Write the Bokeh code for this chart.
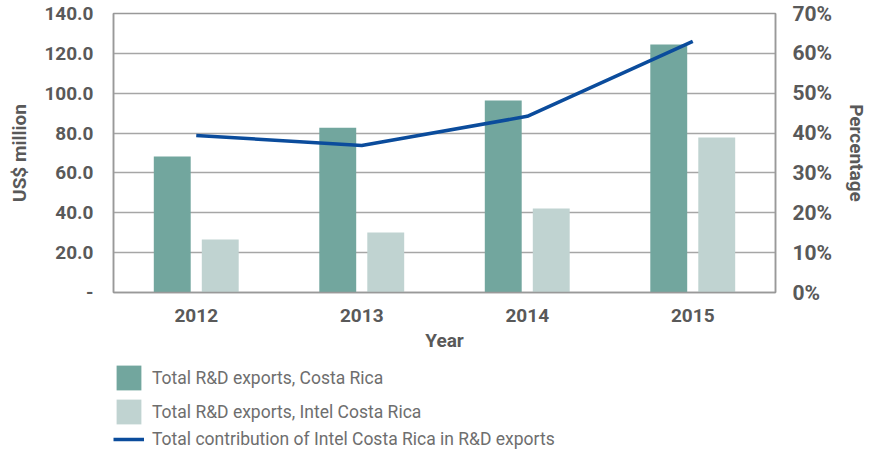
from bokeh.plotting import figure
from bokeh.layouts import column
from bokeh.models import (FactorRange, Range1d, LinearAxis, FixedTicker, NumeralTickFormatter,
                          CustomJSTickFormatter, Legend, LegendItem, ColumnDataSource)
from bokeh.transform import dodge
from bokeh.embed import file_html
from bokeh.resources import INLINE

years = ["2012", "2013", "2014", "2015"]
rd_costa_rica = [68.3, 82.7, 96.4, 124.4]
rd_intel = [26.6, 30.1, 42.2, 77.8]
intel_share = [0.394, 0.369, 0.442, 0.630]
left_ticks = [0, 20, 40, 60, 80, 100, 120, 140]
right_ticks = [0, 0.1, 0.2, 0.3, 0.4, 0.5, 0.6, 0.7]
series_names = ["Total R&D exports, Costa Rica", "Total R&D exports, Intel Costa Rica",
                "Total contribution of Intel Costa Rica in R&D exports"]

src = ColumnDataSource(dict(year=years, cr=rd_costa_rica, intel=rd_intel, share=intel_share))

FONT = "Roboto"
TXT = "#595959"
C_CR = "#72a69e"
C_IN = "#c0d3d1"
C_LN = "#0b4c9c"

p = figure(width=871, height=355, x_range=FactorRange(*years), y_range=Range1d(0, 140),
           output_backend="svg", toolbar_location=None,
           min_border_left=113, min_border_right=96, min_border_top=13, min_border_bottom=63)
p.extra_y_ranges = {"pct": Range1d(0, 0.7)}

p.vbar(x=dodge("year", -0.145, range=p.x_range), top="cr", width=0.223, source=src,
       fill_color=C_CR, line_color=None)
p.vbar(x=dodge("year", 0.145, range=p.x_range), top="intel", width=0.223, source=src,
       fill_color=C_IN, line_color=None)
p.line(x="year", y="share", source=src, y_range_name="pct", line_color=C_LN, line_width=3.5)

ya = p.yaxis[0]
ya.ticker = FixedTicker(ticks=left_ticks)
ya.formatter = CustomJSTickFormatter(code="return tick == 0 ? '-' : tick.toFixed(1);")
ya.axis_label = "US$ million"

ra = LinearAxis(y_range_name="pct", ticker=FixedTicker(ticks=right_ticks),
                formatter=NumeralTickFormatter(format="0%"), axis_label="Percentage")
p.add_layout(ra, "right")

xa = p.xaxis[0]
xa.axis_label = "Year"

for ax in [ya, ra, xa]:
    ax.major_tick_line_color = None
    ax.minor_tick_line_color = None
    ax.major_tick_out = 0
    ax.major_tick_in = 0
    ax.minor_tick_out = 0
    ax.minor_tick_in = 0
    ax.axis_line_color = "#999999"
    ax.axis_line_width = 1.5
    ax.major_label_text_font = FONT
    ax.major_label_text_font_style = "bold"
    ax.major_label_text_font_size = "19px"
    ax.major_label_text_color = TXT
    ax.axis_label_text_font = FONT
    ax.axis_label_text_font_style = "bold"
    ax.axis_label_text_font_size = "19px"
    ax.axis_label_text_color = TXT

ra.major_label_text_font_size = "21px"
ya.major_label_standoff = 20
ra.major_label_standoff = 17
xa.major_label_standoff = 16
ya.axis_label_standoff = 10
ra.axis_label_standoff = 10
xa.axis_label_standoff = 4

p.xgrid.grid_line_color = None
p.ygrid.grid_line_color = "#a6a6a6"
p.ygrid.grid_line_width = 1.5
p.ygrid.ticker = FixedTicker(ticks=left_ticks)
p.outline_line_color = "#999999"
p.outline_line_width = 1.5

# legend panel: same series drawn far out of view, used only as legend glyphs
lg = figure(width=871, height=98, x_range=FactorRange(*years), y_range=Range1d(1000, 1001),
            output_backend="svg", toolbar_location=None,
            min_border_left=0, min_border_right=0, min_border_top=0, min_border_bottom=0)
lg.extra_y_ranges = {"pct": Range1d(1000, 1001)}
lg.axis.visible = False
lg.grid.grid_line_color = None
lg.outline_line_color = None
g_cr = lg.vbar(x="year", top="cr", width=0.2, source=src, fill_color=C_CR, line_color=None)
g_in = lg.vbar(x="year", top="intel", width=0.2, source=src, fill_color=C_IN, line_color=None)
g_ln = lg.line(x="year", y="share", source=src, y_range_name="pct", line_color=C_LN,
               line_width=3.5)

common = dict(padding=0, margin=0, border_line_color=None, background_fill_alpha=0,
              label_text_font=FONT, label_text_font_size="17.5px", label_text_color="#6e6e6e")
leg1 = Legend(items=[LegendItem(label=series_names[0], renderers=[g_cr]),
                     LegendItem(label=series_names[1], renderers=[g_in])],
              location=(0, 26), glyph_width=31, glyph_height=31, spacing=3,
              label_standoff=8, **common)
leg2 = Legend(items=[LegendItem(label=series_names[2], renderers=[g_ln])],
              location=(0, 4), glyph_width=31, glyph_height=20, label_height=20,
              label_standoff=8, **common)
lg.add_layout(leg1, "center")
lg.add_layout(leg2, "center")

open("out.html", "w").write(file_html(column(p, lg, spacing=0), INLINE))
